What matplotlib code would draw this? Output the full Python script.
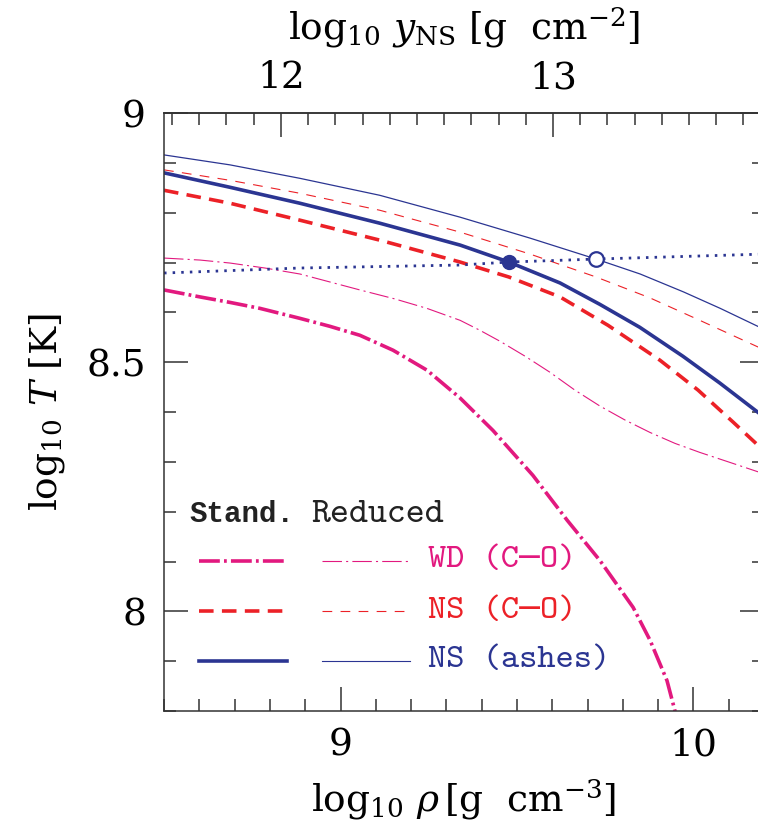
import matplotlib.pyplot as plt
import numpy as np
from matplotlib.ticker import MultipleLocator

# log10 rho and log10 T
wd_std_rho = [8.5, 8.602, 8.687, 8.772, 8.885, 8.970, 9.055, 9.149, 9.245, 9.339, 9.432,
              9.545, 9.642, 9.735, 9.829, 9.877, 9.925, 9.948, 9.955]
wd_std_T = [8.645, 8.631, 8.620, 8.608, 8.588, 8.572, 8.554, 8.524, 8.484, 8.428, 8.363,
            8.273, 8.183, 8.102, 8.008, 7.942, 7.861, 7.799, 7.78]

wd_red_rho = [8.5, 8.602, 8.687, 8.786, 8.885, 8.970, 9.055, 9.154, 9.245, 9.339, 9.395,
              9.452, 9.523, 9.593, 9.664, 9.735, 9.806, 9.877, 9.948, 10.018, 10.103, 10.2]
wd_red_T = [8.709, 8.705, 8.699, 8.689, 8.677, 8.661, 8.645, 8.627, 8.608, 8.584, 8.564,
            8.542, 8.512, 8.480, 8.444, 8.412, 8.384, 8.359, 8.337, 8.319, 8.299, 8.276]

nsco_std_rho = [8.5, 8.687, 8.885, 9.111, 9.339, 9.477, 9.622, 9.758, 9.905, 10.013, 10.112, 10.2]
nsco_std_T = [8.845, 8.819, 8.785, 8.745, 8.701, 8.671, 8.631, 8.574, 8.504, 8.444, 8.380, 8.322]

nsco_red_rho = [8.5, 8.687, 8.885, 9.111, 9.339, 9.537, 9.724, 9.877, 10.018, 10.2]
nsco_red_T = [8.886, 8.865, 8.839, 8.805, 8.761, 8.717, 8.671, 8.629, 8.584, 8.525]

ash_std_rho = [8.5, 8.687, 8.885, 9.111, 9.339, 9.477, 9.622, 9.735, 9.848, 9.970, 10.075, 10.2]
ash_std_T = [8.880, 8.851, 8.819, 8.779, 8.735, 8.701, 8.659, 8.616, 8.570, 8.512, 8.458, 8.390]

ash_red_rho = [8.5, 8.687, 8.885, 9.111, 9.339, 9.537, 9.724, 9.849, 9.972, 10.076, 10.2]
ash_red_T = [8.916, 8.896, 8.869, 8.835, 8.791, 8.749, 8.707, 8.677, 8.641, 8.608, 8.566]

# ignition line and ignition points
ign_rho = [8.5, 8.885, 9.339, 9.477, 9.724, 10.2]
ign_T = [8.679, 8.689, 8.695, 8.701, 8.707, 8.717]
ign_std = (9.477, 8.701)
ign_red = (9.724, 8.707)

magenta = '#e2197f'
red = '#ec2127'
blue = '#2b3592'

plt.rcParams['lines.scale_dashes'] = False
plt.rcParams['mathtext.fontset'] = 'dejavuserif'
plt.rcParams['font.family'] = 'DejaVu Serif'

fig = plt.figure(figsize=(7.58, 8.24), dpi=100)
ax = fig.add_axes([0.2164, 0.1371, 0.7916, 0.7257])

ax.plot(wd_std_rho, wd_std_T, color=magenta, lw=2.6, ls=(0, (15, 3, 2, 3)))
ax.plot(wd_red_rho, wd_red_T, color=magenta, lw=0.8, ls=(0, (14, 3, 1.5, 3)))
ax.plot(nsco_std_rho, nsco_std_T, color=red, lw=2.6, ls=(0, (10.5, 6)))
ax.plot(nsco_red_rho, nsco_red_T, color=red, lw=0.8, ls=(0, (7, 6)))
ax.plot(ash_std_rho, ash_std_T, color=blue, lw=2.6)
ax.plot(ash_red_rho, ash_red_T, color=blue, lw=0.9)
ax.plot(ign_rho, ign_T, color=blue, lw=2.0, ls=(0, (1.8, 4.4)))
ax.plot(*ign_std, 'o', ms=10, color=blue)
ax.plot(*ign_red, 'o', ms=10.5, mfc='white', mec=blue, mew=1.6)

ax.set_xlim(8.5, 10.2)
ax.set_ylim(7.8, 9.0)
ax.set_xticks([9, 10])
ax.set_xticklabels(['9', '10'])
ax.set_yticks([8, 8.5, 9])
ax.set_yticklabels(['8', '8.5', '9'])
ax.xaxis.set_minor_locator(MultipleLocator(0.1))
ax.yaxis.set_minor_locator(MultipleLocator(0.1))
ax.tick_params(which='both', direction='in', right=True, top=False, width=1.1, color='#333333')
ax.tick_params(which='major', length=17, labelsize=27)
ax.tick_params(which='minor', length=8.5)
ax.tick_params(axis='x', pad=12)
ax.tick_params(axis='y', pad=13)
for s in ax.spines.values():
    s.set_linewidth(1.1)
    s.set_color('#333333')

ax.set_xlabel(r'$\log_{10}\,\rho\,[\mathrm{g\ \ cm^{-3}}]$', fontsize=27, labelpad=10)
ax.set_ylabel(r'$\log_{10}\,T\ [\mathrm{K}]$', fontsize=27, labelpad=14)

# top axis: column depth in the neutron star
def rho_to_y(r):
    return 12 + (np.asarray(r) - 8.831) / 0.771

def y_to_rho(y):
    return 8.831 + (np.asarray(y) - 12) * 0.771

sec = ax.secondary_xaxis('top', functions=(rho_to_y, y_to_rho))
sec.set_xticks([12, 13])
sec.set_xticklabels(['12', '13'])
sec.xaxis.set_minor_locator(MultipleLocator(0.1))
sec.tick_params(which='both', direction='in', width=1.1, color='#333333')
sec.tick_params(which='major', length=17, labelsize=27, pad=12)
sec.tick_params(which='minor', length=8.5)
sec.spines['top'].set_linewidth(1.1)
sec.spines['top'].set_color('#333333')
sec.set_xlabel(r'$\log_{10}\,y_{\mathrm{NS}}\ [\mathrm{g\ \ cm^{-2}}]$', fontsize=27, labelpad=15)

# hand-made legend
ax.text(0.043, 0.316, 'Stand.', transform=ax.transAxes, fontsize=21,
        family=['Liberation Mono', 'DejaVu Sans Mono'], weight='bold', color='#222222')
ax.text(0.245, 0.316, 'Reduced', transform=ax.transAxes, fontsize=26,
        family=['cmtt10', 'DejaVu Sans Mono'], color='#222222')
leg_rows = [
    ('WD (C\u2013O)', magenta, (0, (15, 3, 2, 3)), (0, (14, 3, 1.5, 3)), 0.251),
    ('NS (C\u2013O)', red, (0, (10.5, 6)), (0, (7, 6)), 0.167),
    ('NS (ashes)', blue, '-', '-', 0.084),
]
for lab, c, ls_s, ls_r, yy in leg_rows:
    ax.plot([0.058, 0.205], [yy, yy], transform=ax.transAxes, color=c, lw=2.6, ls=ls_s)
    ax.plot([0.263, 0.41], [yy, yy], transform=ax.transAxes, color=c, lw=0.8, ls=ls_r)
    ax.text(0.44, yy, lab, transform=ax.transAxes, fontsize=25, va='center',
            family=['cmtt10', 'DejaVu Sans Mono'], color=c)

fig.savefig('out.png', dpi=100)
